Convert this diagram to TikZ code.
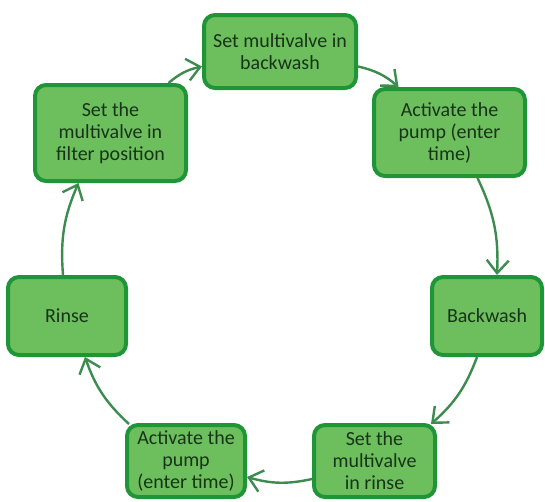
\documentclass[tikz,border=0pt]{standalone}
\usepackage{fontspec}
\setmainfont{Carlito}
\usetikzlibrary{arrows.meta}
\definecolor{boxfill}{HTML}{6DBE5C}
\definecolor{boxline}{HTML}{1E9638}
\definecolor{flowline}{HTML}{3B8C4E}
\definecolor{boxtext}{HTML}{173419}
\begin{document}
\begin{tikzpicture}[x=1pt,y=1pt,
  stepbox/.style={draw=boxline, fill=boxfill, line width=4pt, rounded corners=11pt,
    align=center, text=boxtext, inner sep=2pt,
    font=\fontsize{20}{22}\selectfont},
  flow/.style={draw=flowline, line width=2.4pt,
    -{Straight Barb[length=13pt,width=22pt,line width=2.4pt]}, bend left=14}]
\useasboundingbox (0,0) rectangle (545,-501);
% the seven steps of the backwash cycle
\node[stepbox, minimum width=152pt, minimum height=73pt] (top) at (280,-51.5) {Set multivalve in\\backwash};
\node[stepbox, minimum width=151pt, minimum height=87pt] (act) at (449.5,-132.5) {Activate the\\pump (enter\\time)};
\node[stepbox, minimum width=110pt, minimum height=78pt] (back) at (487,-316) {Backwash};
\node[stepbox, minimum width=121pt, minimum height=72pt] (setrinse) at (374.5,-461) {Set the\\multivalve\\in rinse};
\node[stepbox, minimum width=118pt, minimum height=72pt] (pump) at (186,-461) {Activate the\\pump\\(enter time)};
\node[stepbox, minimum width=118pt, minimum height=78pt] (rinse) at (67,-316) {Rinse};
\node[stepbox, minimum width=151pt, minimum height=96pt] (filter) at (110.5,-133) {Set the\\multivalve in\\filter position};
% connectors, clockwise
\draw[flow] ([xshift=58pt]filter.north) to ([yshift=-15pt]top.west);
\draw[flow] ([yshift=-15pt]top.east) to ([xshift=-51pt]act.north);
\draw[flow] ([xshift=28pt]act.south) to ([xshift=10pt]back.north);
\draw[flow] ([xshift=-10pt]back.south) to ([xshift=-6pt,yshift=-1pt]setrinse.north east);
\draw[flow] ([yshift=-18pt]setrinse.west) to ([yshift=-16pt]pump.east);
\draw[flow] ([xshift=4pt,yshift=-1pt]pump.north west) to ([xshift=18pt]rinse.south);
\draw[flow] ([xshift=-4pt]rinse.north) to ([xshift=-32pt]filter.south);
\end{tikzpicture}
\end{document}
